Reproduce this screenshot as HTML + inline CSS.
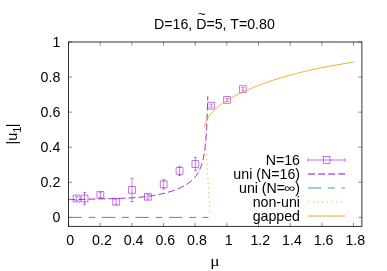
<!DOCTYPE html><html><head><meta charset="utf-8"><style>html,body{margin:0;padding:0;background:#fff}svg{display:block;will-change:transform}text{font-family:"Liberation Sans",sans-serif;font-size:14.2px;fill:#000}</style></head><body>
<svg width="387" height="271" viewBox="0 0 387 271">
<rect width="387" height="271" fill="#fff"/>
<path d="M68.50 226.35v-3.6M68.50 42.00v3.6M100.17 226.35v-3.6M100.17 42.00v3.6M131.84 226.35v-3.6M131.84 42.00v3.6M163.51 226.35v-3.6M163.51 42.00v3.6M195.18 226.35v-3.6M195.18 42.00v3.6M226.85 226.35v-3.6M226.85 42.00v3.6M258.52 226.35v-3.6M258.52 42.00v3.6M290.19 226.35v-3.6M290.19 42.00v3.6M321.86 226.35v-3.6M321.86 42.00v3.6M353.53 226.35v-3.6M353.53 42.00v3.6M68.50 217.35h3.6M361.90 217.35h-3.6M68.50 182.28h3.6M361.90 182.28h-3.6M68.50 147.21h3.6M361.90 147.21h-3.6M68.50 112.14h3.6M361.90 112.14h-3.6M68.50 77.07h3.6M361.90 77.07h-3.6M68.50 42.00h3.6M361.90 42.00h-3.6" stroke="#000" stroke-width="0.45" fill="none"/>
<path d="M76.62 196.60V200.40M75.02 196.60h3.20M75.02 200.40h3.20M84.54 192.50V204.50M82.94 192.50h3.20M82.94 204.50h3.20M100.37 192.25V197.45M98.77 192.25h3.20M98.77 197.45h3.20M116.20 199.25V204.25M114.61 199.25h3.20M114.61 204.25h3.20M132.04 178.30V201.50M130.44 178.30h3.20M130.44 201.50h3.20M147.88 194.50V199.10M146.28 194.50h3.20M146.28 199.10h3.20M163.71 179.65V189.05M162.11 179.65h3.20M162.11 189.05h3.20M179.54 166.30V175.50M177.94 166.30h3.20M177.94 175.50h3.20M195.38 157.30V170.70M193.78 157.30h3.20M193.78 170.70h3.20M211.21 104.05V107.25M209.61 104.05h3.20M209.61 107.25h3.20M227.05 98.40V101.40M225.45 98.40h3.20M225.45 101.40h3.20M242.88 87.60V90.60M241.28 87.60h3.20M241.28 90.60h3.20" stroke="#9400D3" stroke-width="0.5" fill="none"/>
<path d="M73.22 195.10h6.80v6.80h-6.80zM81.14 195.10h6.80v6.80h-6.80zM96.97 191.45h6.80v6.80h-6.80zM112.80 198.35h6.80v6.80h-6.80zM128.64 186.50h6.80v6.80h-6.80zM144.47 193.40h6.80v6.80h-6.80zM160.31 180.95h6.80v6.80h-6.80zM176.14 167.50h6.80v6.80h-6.80zM191.98 160.60h6.80v6.80h-6.80zM207.81 102.25h6.80v6.80h-6.80zM223.65 96.50h6.80v6.80h-6.80zM239.48 85.70h6.80v6.80h-6.80z" stroke="#9400D3" stroke-width="0.55" fill="none"/>
<path d="M68.50 199.60 L69.04 199.60 L69.58 199.61 L70.11 199.61 L70.65 199.61 L71.19 199.61 L71.73 199.61 L72.26 199.60 L72.80 199.60 L73.34 199.59 L73.88 199.59 L74.41 199.58 L74.95 199.57 L75.49 199.56 L76.03 199.55 L76.56 199.54 L77.10 199.53 L77.64 199.52 L78.18 199.50 L78.71 199.49 L79.25 199.48 L79.79 199.46 L80.33 199.45 L80.86 199.43 L81.40 199.42 L81.94 199.40 L82.48 199.39 L83.01 199.37 L83.55 199.36 L84.09 199.34 L84.62 199.32 L85.16 199.31 L85.70 199.29 L86.24 199.27 L86.77 199.26 L87.31 199.24 L87.85 199.23 L88.39 199.21 L88.92 199.19 L89.46 199.18 L90.00 199.16 L90.54 199.14 L91.07 199.13 L91.61 199.11 L92.15 199.10 L92.69 199.08 L93.22 199.07 L93.76 199.05 L94.30 199.04 L94.83 199.02 L95.37 199.01 L95.91 198.99 L96.45 198.98 L96.98 198.96 L97.52 198.95 L98.06 198.94 L98.60 198.92 L99.13 198.91 L99.67 198.90 L100.21 198.88 L100.75 198.87 L101.28 198.86 L101.82 198.84 L102.36 198.83 L102.90 198.82 L103.43 198.81 L103.97 198.79 L104.51 198.78 L105.05 198.77 L105.58 198.76 L106.12 198.74 L106.66 198.73 L107.20 198.72 L107.73 198.71 L108.27 198.69 L108.81 198.68 L109.35 198.67 L109.88 198.66 L110.42 198.64 L110.96 198.63 L111.50 198.62 L112.03 198.60 L112.57 198.59 L113.11 198.58 L113.65 198.56 L114.18 198.55 L114.72 198.54 L115.26 198.52 L115.80 198.51 L116.33 198.49 L116.87 198.48 L117.41 198.46 L117.94 198.44 L118.48 198.43 L119.02 198.41 L119.56 198.39 L120.09 198.37 L120.63 198.35 L121.17 198.34 L121.71 198.32 L122.24 198.30 L122.78 198.28 L123.32 198.25 L123.85 198.23 L124.39 198.21 L124.93 198.19 L125.47 198.16 L126.00 198.14 L126.54 198.11 L127.08 198.09 L127.61 198.06 L128.15 198.03 L128.69 198.01 L129.22 197.98 L129.76 197.95 L130.30 197.92 L130.83 197.89 L131.37 197.85 L131.91 197.82 L132.44 197.79 L132.98 197.75 L133.52 197.71 L134.05 197.68 L134.59 197.64 L135.13 197.60 L135.66 197.56 L136.20 197.52 L136.73 197.48 L137.27 197.43 L137.81 197.39 L138.34 197.34 L138.88 197.30 L139.41 197.25 L139.95 197.20 L140.48 197.15 L141.02 197.10 L141.55 197.05 L142.09 196.99 L142.62 196.94 L143.16 196.88 L143.69 196.82 L144.23 196.76 L144.76 196.70 L145.29 196.64 L145.83 196.57 L146.36 196.51 L146.90 196.44 L147.43 196.37 L147.96 196.30 L148.49 196.23 L149.03 196.16 L149.56 196.09 L150.09 196.01 L150.62 195.93 L151.16 195.85 L151.69 195.77 L152.22 195.69 L152.75 195.60 L153.28 195.52 L153.81 195.43 L154.34 195.34 L154.87 195.25 L155.40 195.15 L155.93 195.06 L156.46 194.96 L156.99 194.86 L157.51 194.76 L158.04 194.66 L158.57 194.55 L159.10 194.45 L159.62 194.34 L160.15 194.23 L160.67 194.11 L161.20 194.00 L161.72 193.88 L162.25 193.76 L162.77 193.64 L163.29 193.51 L163.82 193.38 L164.34 193.26 L164.86 193.12 L165.38 192.99 L165.90 192.85 L166.42 192.71 L166.94 192.57 L167.46 192.43 L167.97 192.28 L168.49 192.13 L169.00 191.98 L169.52 191.83 L170.03 191.67 L170.55 191.51 L171.06 191.35 L171.57 191.18 L172.08 191.01 L172.59 190.84 L173.10 190.67 L173.61 190.49 L174.11 190.31 L174.62 190.13 L175.12 189.94 L175.63 189.75 L176.13 189.56 L176.63 189.36 L177.13 189.16 L177.62 188.96 L178.12 188.75 L178.62 188.54 L179.11 188.32 L179.60 188.11 L180.09 187.88 L180.58 187.66 L181.06 187.43 L181.55 187.19 L182.03 186.96 L182.51 186.71 L182.99 186.47 L183.46 186.21 L183.93 185.96 L184.40 185.70 L184.87 185.43 L185.34 185.16 L185.80 184.89 L186.26 184.61 L186.71 184.32 L187.16 184.03 L187.61 183.73 L188.06 183.43 L188.50 183.12 L188.93 182.81 L189.37 182.49 L189.79 182.16 L190.22 181.83 L190.64 181.49 L191.05 181.15 L191.46 180.80 L191.86 180.44 L192.26 180.08 L192.65 179.71 L193.03 179.34 L193.41 178.96 L193.78 178.57 L194.15 178.17 L194.51 177.77 L194.86 177.37 L195.20 176.95 L195.54 176.53 L195.87 176.11 L196.19 175.68 L196.51 175.24 L196.81 174.80 L197.11 174.36 L197.41 173.90 L197.69 173.45 L197.97 172.99 L198.24 172.52 L198.50 172.05 L198.75 171.58 L199.00 171.10 L199.24 170.62 L199.47 170.14 L199.70 169.65 L199.92 169.16 L200.13 168.66 L200.34 168.17 L200.54 167.67 L200.73 167.17 L200.92 166.66 L201.11 166.16 L201.28 165.65 L201.45 165.14 L201.62 164.63 L201.78 164.12 L201.94 163.60 L202.09 163.09 L202.24 162.57 L202.38 162.05 L202.52 161.53 L202.65 161.01 L202.78 160.49 L202.91 159.97 L203.03 159.44 L203.15 158.92 L203.27 158.40 L203.38 157.87 L203.49 157.34 L203.59 156.82 L203.70 156.29 L203.80 155.76 L203.89 155.23 L203.99 154.70 L204.08 154.17 L204.17 153.64 L204.26 153.11 L204.34 152.58 L204.42 152.05 L204.50 151.52 L204.58 150.99 L204.66 150.45 L204.73 149.92 L204.80 149.39 L204.87 148.86 L204.94 148.32 L205.01 147.79 L205.07 147.26 L205.14 146.72 L205.20 146.19 L205.26 145.65 L205.32 145.12 L205.37 144.58 L205.43 144.05 L205.49 143.51 L205.54 142.98 L205.59 142.44 L205.64 141.91 L205.69 141.37 L205.74 140.84 L205.79 140.30 L205.84 139.77 L205.88 139.23 L205.93 138.70 L205.97 138.16 L206.01 137.62 L206.05 137.09 L206.09 136.55 L206.13 136.02 L206.17 135.48 L206.21 134.94 L206.25 134.41 L206.29 133.87 L206.32 133.34 L206.36 132.80 L206.39 132.26 L206.43 131.73 L206.46 131.19 L206.49 130.65 L206.52 130.12 L206.55 129.58 L206.58 129.04 L206.61 128.51 L206.64 127.97 L206.67 127.43 L206.70 126.89 L206.73 126.36 L206.76 125.82 L206.78 125.28 L206.81 124.75 L206.84 124.21 L206.86 123.67 L206.89 123.14 L206.91 122.60 L206.93 122.06 L206.96 121.53 L206.98 120.99 L207.00 120.45 L207.03 119.91 L207.05 119.38 L207.07 118.84 L207.09 118.30 L207.11 117.76 L207.13 117.23 L207.15 116.69 L207.17 116.15 L207.19 115.62 L207.21 115.08 L207.23 114.54 L207.25 114.00 L207.27 113.47 L207.28 112.93 L207.30 112.39 L207.32 111.85 L207.34 111.32 L207.35 110.78 L207.37 110.24 L207.39 109.71 L207.40 109.17 L207.42 108.63 L207.43 108.09 L207.45 107.56 L207.46 107.02 L207.48 106.48 L207.49 105.94 L207.51 105.41 L207.52 104.87 L207.54 104.33 L207.55 103.79 L207.56 103.26 L207.58 102.72 L207.59 102.18 L207.60 101.64 L207.62 101.11 L207.63 100.57 L207.64 100.03 L207.65 99.49 L207.66 98.96 L207.68 98.42 L207.69 97.88 L207.70 97.34 L207.71 96.81 L207.72 96.27" stroke="#9400D3" stroke-width="1.0" fill="none" stroke-dasharray="6.85 3.17"/>
<path d="M68.50 217.40H208.5" stroke="#3A92C8" stroke-width="1.0" fill="none" stroke-dasharray="13.4 6.7 6.7 6.7"/>
<path d="M204.58 126.40L210.0 212" stroke="#EAA81E" stroke-width="1.0" fill="none" stroke-dasharray="1.1 3.6"/>
<path d="M204.58 126.40 L204.69 125.96 L204.80 125.53 L204.92 125.10 L205.05 124.68 L205.18 124.26 L205.31 123.84 L205.45 123.43 L205.60 123.02 L205.75 122.62 L205.91 122.21 L206.07 121.82 L206.24 121.42 L206.41 121.03 L206.58 120.65 L206.77 120.26 L206.95 119.88 L207.15 119.50 L207.35 119.13 L207.55 118.75 L207.76 118.38 L207.97 118.02 L208.19 117.65 L208.42 117.29 L208.65 116.93 L208.88 116.57 L209.12 116.22 L209.37 115.86 L209.62 115.51 L209.87 115.16 L210.13 114.81 L210.40 114.47 L210.67 114.13 L210.95 113.78 L211.23 113.44 L211.52 113.11 L211.81 112.77 L212.11 112.43 L212.41 112.10 L212.72 111.77 L213.04 111.44 L213.35 111.11 L213.68 110.78 L214.01 110.45 L214.34 110.12 L214.68 109.80 L215.03 109.47 L215.38 109.15 L215.73 108.83 L216.09 108.51 L216.46 108.19 L216.83 107.87 L217.21 107.55 L217.59 107.23 L217.98 106.91 L218.37 106.60 L218.77 106.28 L219.17 105.97 L219.58 105.65 L219.99 105.34 L220.41 105.02 L220.83 104.71 L221.26 104.40 L221.70 104.09 L222.14 103.77 L222.58 103.46 L223.03 103.15 L223.49 102.84 L223.95 102.53 L224.41 102.22 L224.88 101.91 L225.36 101.60 L225.84 101.30 L226.33 100.99 L226.82 100.68 L227.32 100.37 L227.82 100.06 L228.33 99.76 L228.84 99.45 L229.36 99.14 L229.88 98.84 L230.41 98.53 L230.95 98.22 L231.49 97.92 L232.03 97.61 L232.58 97.31 L233.14 97.00 L233.70 96.70 L234.26 96.39 L234.83 96.09 L235.41 95.78 L235.99 95.48 L236.58 95.17 L237.17 94.87 L237.76 94.57 L238.37 94.26 L238.97 93.96 L239.59 93.66 L240.20 93.35 L240.83 93.05 L241.46 92.75 L242.09 92.45 L242.73 92.15 L243.37 91.84 L244.02 91.54 L244.68 91.24 L245.34 90.94 L246.00 90.64 L246.67 90.34 L247.35 90.04 L248.03 89.74 L248.72 89.44 L249.41 89.14 L250.10 88.84 L250.81 88.55 L251.51 88.25 L252.22 87.95 L252.94 87.65 L253.67 87.36 L254.39 87.06 L255.13 86.77 L255.87 86.47 L256.61 86.18 L257.36 85.88 L258.11 85.59 L258.87 85.30 L259.64 85.00 L260.41 84.71 L261.18 84.42 L261.96 84.13 L262.75 83.84 L263.54 83.55 L264.34 83.26 L265.14 82.97 L265.95 82.69 L266.76 82.40 L267.57 82.11 L268.40 81.83 L269.22 81.54 L270.06 81.26 L270.90 80.98 L271.74 80.70 L272.59 80.41 L273.44 80.13 L274.30 79.85 L275.17 79.58 L276.04 79.30 L276.91 79.02 L277.79 78.75 L278.68 78.47 L279.57 78.20 L280.46 77.92 L281.37 77.65 L282.27 77.38 L283.18 77.11 L284.10 76.84 L285.02 76.57 L285.95 76.31 L286.88 76.04 L287.82 75.78 L288.76 75.51 L289.71 75.25 L290.67 74.99 L291.63 74.73 L292.59 74.47 L293.56 74.21 L294.53 73.96 L295.51 73.70 L296.50 73.45 L297.49 73.19 L298.48 72.94 L299.49 72.69 L300.49 72.44 L301.50 72.19 L302.52 71.95 L303.54 71.70 L304.57 71.46 L305.60 71.21 L306.64 70.97 L307.68 70.73 L308.73 70.49 L309.78 70.25 L310.84 70.02 L311.91 69.78 L312.98 69.55 L314.05 69.31 L315.13 69.08 L316.21 68.85 L317.30 68.62 L318.40 68.40 L319.50 68.17 L320.61 67.95 L321.72 67.72 L322.83 67.50 L323.96 67.28 L325.08 67.06 L326.21 66.84 L327.35 66.62 L328.49 66.41 L329.64 66.19 L330.79 65.98 L331.95 65.76 L333.12 65.55 L334.29 65.34 L335.46 65.13 L336.64 64.92 L337.82 64.72 L339.01 64.51 L340.21 64.31 L341.41 64.10 L342.61 63.90 L343.82 63.70 L345.04 63.50 L346.26 63.30 L347.49 63.10 L348.72 62.90 L349.96 62.70 L351.20 62.51 L352.45 62.31 L353.70 62.12" stroke="#EAA81E" stroke-width="1.0" fill="none"/>
<rect x="68.50" y="42.00" width="293.40" height="184.35" stroke="#000" stroke-width="0.8" fill="none"/>
<path d="M308.00 160.00H345.20M308.00 158.40v3.2M345.20 158.40v3.2" stroke="#9400D3" stroke-width="0.55" fill="none"/>
<rect x="323.20" y="156.60" width="6.80" height="6.80" stroke="#9400D3" stroke-width="0.55" fill="none"/>
<path d="M308.00 174.00H345.20" stroke="#9400D3" stroke-width="1.0" fill="none" stroke-dasharray="6.9 3.2"/>
<path d="M308.00 188.00H345.20" stroke="#3A92C8" stroke-width="1.0" fill="none" stroke-dasharray="13.4 6.7 6.7 6.7"/>
<path d="M308.00 202.00H345.20" stroke="#EAA81E" stroke-width="1.0" fill="none" stroke-dasharray="1.1 3.6"/>
<path d="M308.00 216.00H345.20" stroke="#EAA81E" stroke-width="1.0" fill="none"/>
<text x="300" y="164.50" text-anchor="end">N=16</text>
<text x="300" y="178.50" text-anchor="end">uni (N=16)</text>
<text x="285.15" y="192.50" text-anchor="end">uni (N=</text>
<text transform="translate(289.8,188.80) scale(1.1,0.8)" x="0" y="4.1" text-anchor="middle">∞</text>
<text x="300" y="192.50" text-anchor="end">)</text>
<text x="300" y="206.50" text-anchor="end">non-uni</text>
<text x="300" y="220.50" text-anchor="end">gapped</text>
<text x="70.30" y="245.1" text-anchor="middle">0</text>
<text x="101.97" y="245.1" text-anchor="middle">0.2</text>
<text x="133.64" y="245.1" text-anchor="middle">0.4</text>
<text x="165.31" y="245.1" text-anchor="middle">0.6</text>
<text x="196.98" y="245.1" text-anchor="middle">0.8</text>
<text x="228.65" y="245.1" text-anchor="middle">1</text>
<text x="260.32" y="245.1" text-anchor="middle">1.2</text>
<text x="291.99" y="245.1" text-anchor="middle">1.4</text>
<text x="323.66" y="245.1" text-anchor="middle">1.6</text>
<text x="355.33" y="245.1" text-anchor="middle">1.8</text>
<text x="60.3" y="222.35" text-anchor="end">0</text>
<text x="60.3" y="187.28" text-anchor="end">0.2</text>
<text x="60.3" y="152.21" text-anchor="end">0.4</text>
<text x="60.3" y="117.14" text-anchor="end">0.6</text>
<text x="60.3" y="82.07" text-anchor="end">0.8</text>
<text x="60.3" y="47.00" text-anchor="end">1</text>
<text x="154.0" y="28.8">D=16, D=5, T=0.80</text>
<text x="198.1" y="18.3" style="font-size:13px">~</text>
<text transform="translate(214.9,265.9) scale(1.16,1)" text-anchor="middle" style="font-family:'Liberation Serif',serif;font-size:15px">μ</text>
<text transform="translate(16.8,144.4) rotate(-90)">|u<tspan font-size="11.3" dy="4.1">1</tspan><tspan dy="-4.1" dx="-0.8">|</tspan></text>
</svg></body></html>
